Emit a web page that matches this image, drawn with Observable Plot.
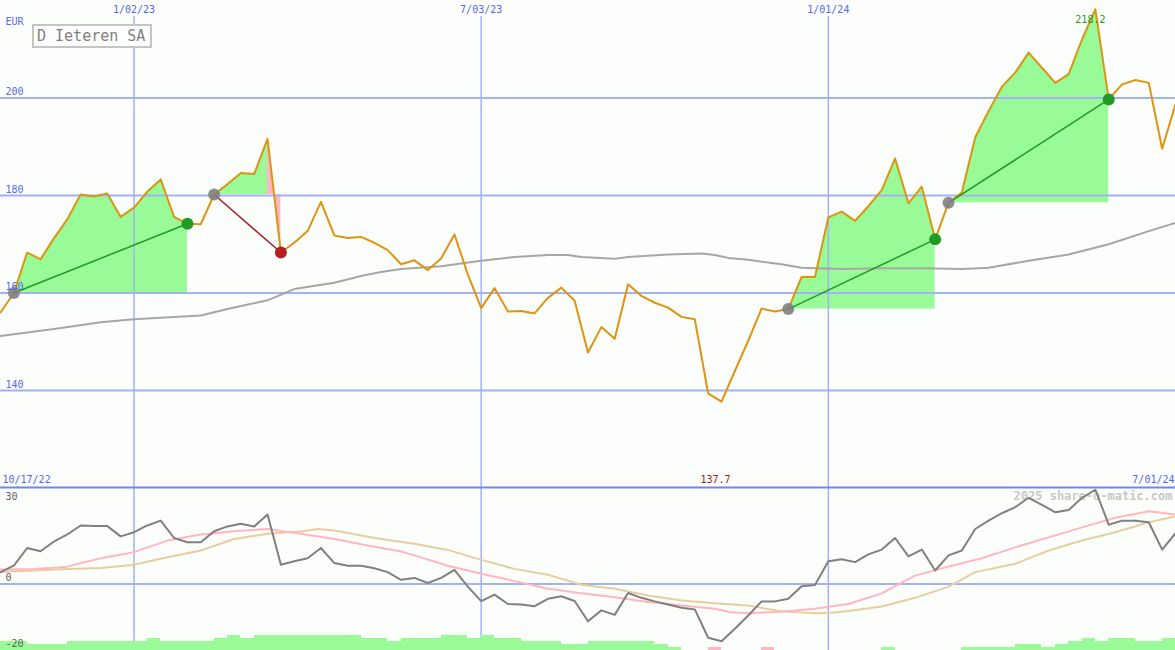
<!DOCTYPE html>
<html><head><meta charset="utf-8">
<script src="https://cdn.jsdelivr.net/npm/d3@7"></script>
<script src="https://cdn.jsdelivr.net/npm/@observablehq/plot@0.6"></script>
<style>
html,body{margin:0;padding:0;background:#fcfefc;}
#chart{position:relative;width:1175px;height:650px;overflow:hidden;background:#fcfefc;}
#chart svg{position:absolute;left:0;}
#title{position:absolute;left:32px;top:24px;width:113px;height:20px;border:2px solid #c4c4c4;background:#ffffff;color:#808080;font:15px "DejaVu Sans Mono",monospace;line-height:20px;padding-left:3px;z-index:5;}
</style></head><body><div id="chart"><div id="title">D Ieteren SA</div></div>
<script>
// ---- data (weekly points, week 0 = 10/24/22 ... week 88 = 7/01/24) ----
const price = [
  156.0,160.0,168.3,166.9,171.2,175.1,180.2,179.8,180.4,175.6,
  177.5,180.8,183.3,175.6,174.2,174.1,180.2,182.3,184.6,184.4,
  191.6,168.3,170.3,172.7,178.7,171.8,171.3,171.5,170.3,168.8,
  165.9,166.7,164.7,167.1,172.0,163.8,156.9,161.0,156.2,156.3,
  155.8,159.0,161.1,158.4,147.8,153.0,150.6,161.8,159.4,158.0,
  157.0,155.1,154.6,139.4,137.7,144.0,150.2,156.8,156.2,156.7,
  163.3,163.3,175.5,176.7,174.8,177.8,181.1,187.6,178.4,181.8,
  171.0,178.5,180.6,191.9,197.3,202.3,205.2,209.3,206.2,203.1,
  204.9,212.0,218.2,199.7,202.8,203.7,203.1,189.6,198.7
];
const maWeek  = [0,4,7.5,10,15,17,20,22,25,27,28.5,30,33,36,38.5,41,42.5,43.5,46,47,50,52.5,53.5,54.5,56,58.5,60,63,66,69,72,74,77,80,83,86,88];
const maValue = [151.2,152.6,154.0,154.6,155.4,156.7,158.5,160.8,162.1,163.5,164.3,164.9,165.5,166.6,167.4,167.8,167.8,167.4,167.0,167.4,167.9,168.1,167.8,167.2,166.8,165.9,165.2,164.9,165.1,165.1,164.9,165.2,166.6,167.9,170.0,172.7,174.4];
const osc = [
  3.7,5.7,11.2,10.2,13.2,15.4,18.2,18.0,18.0,14.8,
  16.1,18.2,19.7,14.3,13.0,13.0,16.4,17.9,18.7,17.9,
  21.6,6.0,7.1,8.0,11.2,6.5,5.7,5.7,4.9,3.7,
  1.3,1.9,0.3,1.9,4.4,-0.8,-5.3,-3.3,-6.2,-6.4,
  -6.9,-4.6,-3.8,-5.3,-11.6,-8.2,-9.6,-2.8,-4.3,-5.4,
  -6.4,-7.4,-7.9,-16.7,-17.8,-13.9,-9.8,-5.4,-5.4,-4.6,
  -0.7,-0.3,7.1,7.7,6.8,9.2,10.7,14.3,8.6,10.7,
  4.2,8.9,10.4,17.1,19.7,22.0,23.9,26.8,24.6,22.3,
  23.0,26.8,29.3,18.4,19.7,19.7,19.2,10.7,15.8
];
const pinkWeek  = [0,2.5,5,7.5,10,12.5,15,17.5,20,22.5,25,27.5,30,31,33.5,36,38.5,41,43.5,46,48.5,51,53.5,54.7,56,58.5,61,63.5,66,67.2,68.5,71,73.5,76,78.5,81,83.5,86,88];
const pinkValue = [4.5,4.7,5.4,8.0,9.9,13.5,15.4,16.4,17.1,15.6,14.0,12.0,10.1,8.9,5.7,3.2,0.9,-1.5,-2.9,-4.1,-5.6,-6.7,-7.7,-8.8,-9.1,-8.6,-7.7,-6.2,-2.9,-0.2,2.6,5.4,8.0,11.4,14.5,17.6,20.6,22.6,21.6];
const tanWeek  = [0,2.5,5,7.5,10,12.5,15,17.5,20,22.5,23.8,25,27.5,28.5,31,33.5,36,38.5,41,43.5,46,48.5,51,53.5,56,58.5,61,62.2,63.5,66,68.5,71,73,76,78.5,81,83.5,86,88];
const tanValue = [3.7,4.2,4.7,5.0,6.0,8.3,10.4,14.0,15.6,16.3,17.1,16.6,14.7,14.0,12.5,10.6,7.5,4.7,2.9,-0.2,-1.5,-3.6,-5.1,-6.0,-6.7,-8.5,-9.1,-8.9,-8.4,-7.0,-4.3,-0.8,3.7,6.3,10.4,13.5,16.1,19.2,21.0];
const volume = [
  3,3,2,2,2,3,3,3,3,3,
  3,4,3,3,3,3,4,5,4,5,
  5,5,5,5,5,5,5,4,4,3,
  4,4,4,5,5,4,5,4,4,3,
  3,3,2,2,3,3,3,3,3,2,
  1,0,0,-1,0,0,0,-1,0,0,
  0,0,0,0,0,0,1,0,0,0,
  0,0,1,1,1,1,2,2,1,2,
  3,4,3,4,4,3,3,4,4
];
const trendStart = [1,16,59,71];
const trendEnd   = [14,21,70,83];
const tickWeek  = [10,36,62];
const tickLabel = ["1/02/23","7/03/23","1/01/24"];
const priceTicks = [140,160,180,200];
const oscTop = 30, oscZero = 0, oscBottom = -20;
const firstLabel = "10/17/22", lastLabel = "7/01/24";
const highWeek = 82, lowWeek = 54;

// ---- styling ----
const W = 1175;
const FONT = "DejaVu Sans Mono";
const BLUE = "#5566ee", GRID = "#a2b2f4", SEP = "#7484ee";
const GREEN_FILL = "#98fb98", PINK_FILL = "#ffb6c1";
const baseStyle = {background: "transparent", overflow: "visible", fontFamily: FONT, fontSize: "10px"};
const T = {fontFamily: FONT, fontSize: 10, lineAnchor: "middle"};

// fill polygons between price and trend base
const fillRows = [];
trendStart.forEach((s, i) => {
  const e = trendEnd[i], base = price[s];
  let g = 0, prev = null;
  for (let k = s; k < e; k++) {
    const up = price[k + 1] >= base;
    if (prev !== null && up !== prev) g++;
    prev = up;
    const id = i + "-" + g;
    fillRows.push({k, base, p: price[k], id, up}, {k: k + 1, base, p: price[k + 1], id, up});
  }
});
const trends = trendStart.map((s, i) => ({s, e: trendEnd[i], up: price[trendEnd[i]] >= price[s]}));
const priceRows = price.map((p, k) => ({k, p}));
const maRows = maWeek.map((k, i) => ({k, v: maValue[i]}));
const oscRows = osc.map((v, k) => ({k, v}));
const pinkRows = pinkWeek.map((k, i) => ({k, v: pinkValue[i]}));
const tanRows = tanWeek.map((k, i) => ({k, v: tanValue[i]}));
const volRows = volume.map((v, k) => ({k, v}));

const upper = Plot.plot({
  width: W, height: 487, marginTop: 0, marginBottom: 0, marginLeft: 0, marginRight: 0,
  x: {domain: [0, 88], axis: null},
  y: {domain: [120.1, 220], axis: null},
  style: baseStyle,
  marks: [
    Plot.areaY(fillRows, {filter: d => d.up, x: "k", y1: "base", y2: "p", z: "id", fill: GREEN_FILL}),
    Plot.areaY(fillRows, {filter: d => !d.up, x: "k", y1: "base", y2: "p", z: "id", fill: PINK_FILL}),
    Plot.ruleY(priceTicks, {stroke: GRID, strokeWidth: 2}),
    Plot.ruleX(tickWeek, {stroke: GRID, strokeWidth: 1.5, insetTop: 16}),
    Plot.line(maRows, {x: "k", y: "v", stroke: "#a6a6a6", strokeWidth: 2}),
    Plot.line(priceRows, {x: "k", y: "p", stroke: "#de9410", strokeWidth: 2}),
    Plot.link(trends, {filter: d => d.up, x1: "s", y1: d => price[d.s], x2: "e", y2: d => price[d.e], stroke: "#229922", strokeWidth: 1.5}),
    Plot.link(trends, {filter: d => !d.up, x1: "s", y1: d => price[d.s], x2: "e", y2: d => price[d.e], stroke: "#a01c1c", strokeWidth: 1.5}),
    Plot.dot(trends, {x: "s", y: d => price[d.s], r: 6, fill: "#808080", fillOpacity: 0.9, stroke: "none"}),
    Plot.dot(trends, {filter: d => d.up, x: "e", y: d => price[d.e], r: 6, fill: "#229922", stroke: "none"}),
    Plot.dot(trends, {filter: d => !d.up, x: "e", y: d => price[d.e], r: 6, fill: "#b02222", stroke: "none"}),
    Plot.text(priceTicks, {...T, frameAnchor: "left", y: d => d, text: d => String(d), dx: 5, dy: -6, textAnchor: "start", fill: BLUE}),
    Plot.text(["EUR"], {...T, frameAnchor: "top-left", dx: 5, dy: 21, textAnchor: "start", fill: BLUE}),
    Plot.text(tickWeek, {...T, x: d => d, frameAnchor: "top", dy: 9, text: (d, i) => tickLabel[i], fill: BLUE}),
    Plot.text([firstLabel], {...T, frameAnchor: "bottom-left", dx: 2, dy: -8, textAnchor: "start", fill: BLUE}),
    Plot.text([lastLabel], {...T, frameAnchor: "bottom-right", dx: -1, dy: -8, textAnchor: "end", fill: BLUE}),
    Plot.text([highWeek], {...T, x: d => d, y: d => price[d], text: d => price[d].toFixed(1), dx: -5, dy: 11, fill: "#229922"}),
    Plot.text([lowWeek], {...T, x: d => d, frameAnchor: "bottom", text: d => price[d].toFixed(1), dx: -6, dy: -8, fill: "#a01c1c"})
  ]
});
upper.style.top = "0px";

const bars = Plot.plot({
  width: W, height: 163, marginTop: 0, marginBottom: 0, marginLeft: 0, marginRight: 0,
  x: {domain: [0, 88], axis: null},
  y: {domain: [0, 163 / 3], axis: null},
  style: baseStyle,
  marks: [
    Plot.ruleX(tickWeek, {stroke: GRID, strokeWidth: 1.5}),
    Plot.rectY(volRows, {filter: d => d.v > 0, x1: "k", x2: d => d.k + 1, y: d => Math.abs(d.v), fill: GREEN_FILL, shapeRendering: "crispEdges"}),
    Plot.rectY(volRows, {filter: d => d.v < 0, x1: "k", x2: d => d.k + 1, y: d => Math.abs(d.v), fill: PINK_FILL, shapeRendering: "crispEdges"})
  ]
});
bars.style.top = "487px";

const lower = Plot.plot({
  width: W, height: 165, marginTop: 2, marginBottom: 0, marginLeft: 0, marginRight: 0,
  x: {domain: [0, 88], axis: null},
  y: {domain: [-20.67, 30], axis: null},
  style: baseStyle,
  marks: [
    Plot.ruleY([oscZero], {stroke: GRID, strokeWidth: 2}),
    Plot.ruleY([oscTop], {stroke: SEP, strokeWidth: 2}),
    Plot.text(["2025 share-o-matic.com"], {...T, frameAnchor: "top-right", dx: -3, dy: 9, textAnchor: "end", fill: "#c8c8c8", fontWeight: "bold", fontSize: 12}),
    Plot.line(tanRows, {x: "k", y: "v", stroke: "#e6cf9e", strokeWidth: 2}),
    Plot.line(pinkRows, {x: "k", y: "v", stroke: "#ffb6c1", strokeWidth: 2}),
    Plot.line(oscRows, {x: "k", y: "v", stroke: "#808080", strokeWidth: 2}),
    Plot.text([oscTop], {...T, frameAnchor: "left", y: d => d, text: d => String(d), dx: 5, dy: 9, textAnchor: "start", fill: "#606060"}),
    Plot.text([oscZero], {...T, frameAnchor: "left", y: d => d, text: d => String(d), dx: 5, dy: -6, textAnchor: "start", fill: "#606060"}),
    Plot.text([oscBottom], {...T, frameAnchor: "left", y: d => d, text: d => String(d), dx: 5, dy: -5, textAnchor: "start", fill: "#606060"})
  ]
});
lower.style.top = "485px";

const chart = document.getElementById("chart");
chart.insertBefore(lower, chart.firstChild);
chart.insertBefore(bars, chart.firstChild);
chart.insertBefore(upper, chart.firstChild);
</script></body></html>
